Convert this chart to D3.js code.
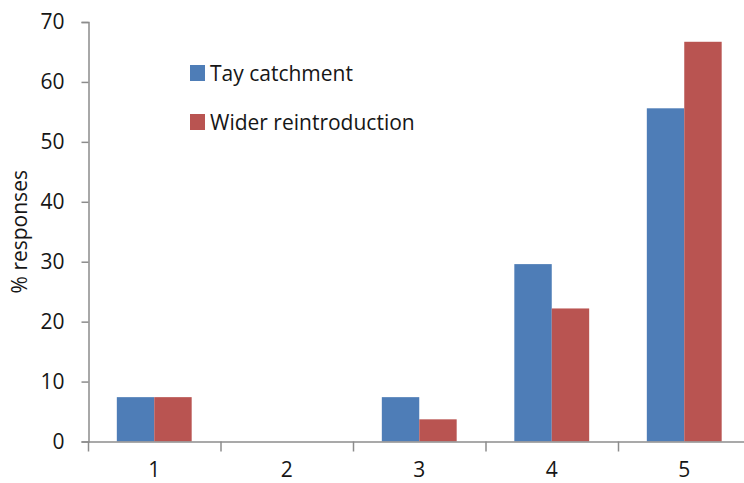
<!DOCTYPE html>
<html>
<head>
<meta charset="utf-8">
<script src="https://cdn.jsdelivr.net/npm/d3@7"></script>
<style>
  html, body { margin: 0; padding: 0; background: #fff; }
  svg { display: block; }
  text { font-family: "Open Sans", "Noto Sans", sans-serif; fill: #161616; }
</style>
</head>
<body>
<svg id="chart" width="744" height="483"></svg>
<script>
// Survey response categories and the share of responses in each (%)
const categories = ["1", "2", "3", "4", "5"];
const seriesNames = ["Tay catchment", "Wider reintroduction"];
const tayCatchment = [7.4, 0, 7.4, 29.6, 55.6];
const widerReintroduction = [7.4, 0, 3.7, 22.2, 66.7];
const yTicks = [0, 10, 20, 30, 40, 50, 60, 70];
const colors = ["#4E7DB7", "#B95451"];

const FONT = 21;
const svg = d3.select("#chart");
const margin = { left: 88, top: 22, bottom: 42 };
const plotBottom = 483 - margin.bottom + 0.5;
const bandWidth = 132.5;
const plotRight = margin.left + bandWidth * categories.length;

const x = d3.scaleBand().domain(categories).range([margin.left, plotRight]).paddingInner(0).paddingOuter(0);
const y = d3.scaleLinear().domain([0, 70]).range([plotBottom, margin.top]);
const xSub = d3.scaleBand().domain(seriesNames).range([0, x.bandwidth()]).paddingOuter(0.77).paddingInner(0);

const series = [tayCatchment, widerReintroduction];

// Bars
const groups = svg.append("g").selectAll("g")
  .data(categories)
  .join("g")
  .attr("transform", d => `translate(${x(d)},0)`);

groups.selectAll("rect")
  .data((d, i) => seriesNames.map((name, s) => ({ name, s, v: series[s][i] })))
  .join("rect")
  .attr("x", d => xSub(d.name))
  .attr("width", xSub.bandwidth())
  .attr("y", d => y(d.v))
  .attr("height", d => y(0) - y(d.v))
  .attr("fill", d => colors[d.s]);

// Y axis
const yAxis = svg.append("g")
  .attr("transform", `translate(${margin.left + 0.5},0)`)
  .call(d3.axisLeft(y).tickValues(yTicks).tickSize(7).tickPadding(17));
yAxis.select(".domain").attr("stroke", "#8c8c8c").attr("stroke-width", 1.5);
yAxis.selectAll(".tick line").attr("stroke", "#8c8c8c").attr("stroke-width", 1.5);
yAxis.selectAll("text").attr("font-size", FONT).attr("fill", "#161616")
  .attr("font-family", "'Open Sans', sans-serif");

// X axis
const xAxis = svg.append("g")
  .attr("transform", `translate(0,${plotBottom})`)
  .call(d3.axisBottom(x).tickSize(0).tickPadding(21));
xAxis.select(".domain").attr("stroke", "#8c8c8c").attr("stroke-width", 1.5);
xAxis.selectAll("text").attr("font-size", FONT).attr("fill", "#161616")
  .attr("font-family", "'Open Sans', sans-serif");

// Category boundary ticks below the x axis
svg.append("g").selectAll("line")
  .data(categories)
  .join("line")
  .attr("x1", d => x(d) + 0.5)
  .attr("x2", d => x(d) + 0.5)
  .attr("y1", plotBottom)
  .attr("y2", plotBottom + 10)
  .attr("stroke", "#8c8c8c")
  .attr("stroke-width", 1.5);

// Y axis title
svg.append("text")
  .attr("transform", `translate(27,${(margin.top + plotBottom) / 2}) rotate(-90)`)
  .attr("text-anchor", "middle")
  .attr("font-size", FONT)
  .text("% responses");

// Legend
const legend = svg.append("g").attr("transform", "translate(190,65)");
const items = legend.selectAll("g")
  .data(seriesNames)
  .join("g")
  .attr("transform", (d, i) => `translate(0,${i * 49})`);
items.append("rect").attr("width", 15).attr("height", 16).attr("fill", (d, i) => colors[i]);
items.append("text").attr("x", 20).attr("y", 16).attr("font-size", FONT).text(d => d);
</script>
</body>
</html>
